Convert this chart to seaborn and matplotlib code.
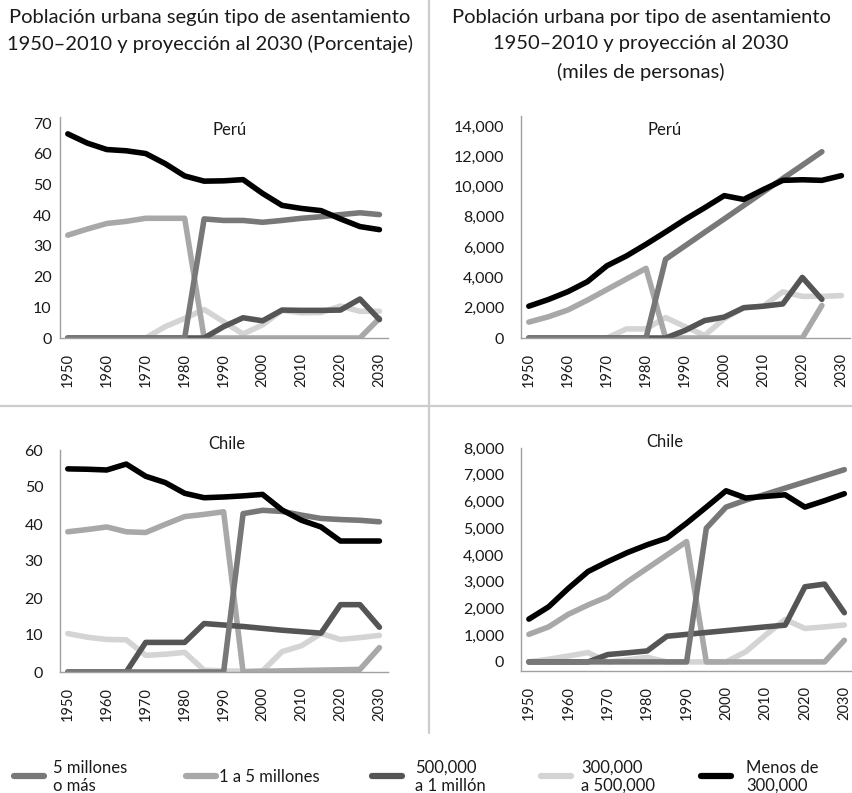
import numpy as np
import pandas as pd
import matplotlib
matplotlib.use("Agg")
import matplotlib.pyplot as plt
from matplotlib.lines import Line2D
from matplotlib.ticker import FuncFormatter
import seaborn as sns

sns.set_theme(style="white")
plt.rcParams["font.family"] = ["Lato", "DejaVu Sans"]
plt.rcParams["text.color"] = "#1a1a1a"

years = [1950, 1955, 1960, 1965, 1970, 1975, 1980, 1985, 1990,
         1995, 2000, 2005, 2010, 2015, 2020, 2025, 2030]

series = ["5 millones\no más", "1 a 5 millones", "500,000\na 1 millón",
          "300,000\na 500,000", "Menos de\n300,000"]
colors = ["#787878", "#a8a8a8", "#555555", "#d4d4d4", "#000000"]
nan = np.nan

# Peru, porcentaje
peru_pct_5m = [0, 0, 0, 0, 0, 0, 0, 38.8, 38.3, 38.3, 37.7, 38.3, 39.0, 39.5, 40.2, 40.8, 40.2]
peru_pct_1a5 = [33.5, 35.5, 37.3, 38.0, 39.0, 39.0, 39.0, 0, 0, 0, 0, 0, 0, 0, 0, 0, 6.4]
peru_pct_500k = [0, 0, 0, 0, 0, 0, 0, 0, 3.7, 6.6, 5.6, 9.1, 9.0, 9.0, 9.1, 12.7, 6.0]
peru_pct_300k = [0, 0, 0, 0, 0, 3.7, 6.4, 9.3, 5.3, 1.3, 4.3, 9.0, 8.2, 8.3, 10.4, 8.7, 8.7]
peru_pct_men = [66.5, 63.5, 61.4, 61.0, 60.1, 56.8, 52.8, 51.1, 51.2, 51.6, 47.1, 43.2, 42.2, 41.5, 38.8, 36.3, 35.3]

# Peru, miles de personas
peru_abs_5m = [0, 0, 0, 0, 0, 0, 0, 5200, 6090, 6980, 7860, 8750, 9640, 10530, 11410, 12300, nan]
peru_abs_1a5 = [1050, 1400, 1850, 2500, 3200, 3900, 4600, 0, 0, 0, 0, 0, 0, 0, 0, 2150, nan]
peru_abs_500k = [0, 0, 0, 0, 0, 0, 0, 0, 500, 1150, 1380, 2000, 2100, 2250, 4000, 2550, nan]
peru_abs_300k = [0, 0, 0, 0, 0, 600, 600, 1350, 750, 170, 1270, 2000, 2100, 3050, 2750, 2750, 2800]
peru_abs_men = [2100, 2540, 3060, 3720, 4770, 5420, 6190, 7000, 7830, 8600, 9400, 9150, 9800, 10410, 10450, 10410, 10720]

# Chile, porcentaje
chile_pct_5m = [0, 0, 0, 0, 0, 0, 0, 0, 0, 42.8, 43.7, 43.4, 42.4, 41.5, 41.2, 41.0, 40.6]
chile_pct_1a5 = [37.9, 38.5, 39.2, 37.9, 37.7, 39.9, 42.0, 42.6, 43.3, 0, 0.2, 0.3, 0.4, 0.5, 0.6, 0.7, 6.6]
chile_pct_500k = [0, 0, 0, 0, 8.0, 8.0, 8.0, 13.1, 12.7, 12.3, 11.8, 11.3, 10.9, 10.5, 18.2, 18.2, 12.1]
chile_pct_300k = [10.4, 9.4, 8.8, 8.7, 4.5, 4.8, 5.3, 0.5, 0.3, 0.2, 0.3, 5.5, 7.1, 10.4, 8.8, 9.3, 9.9]
chile_pct_men = [54.9, 54.8, 54.6, 56.2, 52.9, 51.2, 48.3, 47.1, 47.3, 47.6, 48.0, 43.8, 41.0, 39.2, 35.4, 35.4, 35.4]

# Chile, miles de personas
chile_abs_5m = [0, 0, 0, 0, 0, 0, 0, 0, 0, 5000, 5790, 6050, 6270, 6500, 6730, 6960, 7190]
chile_abs_1a5 = [1030, 1310, 1780, 2130, 2440, 3000, 3500, 4000, 4500, 0, 0, 0, 0, 0, 0, 0, 810]
chile_abs_500k = [0, 0, 0, 0, 275, 340, 410, 960, 1030, 1100, 1170, 1240, 1310, 1375, 2810, 2910, 1840]
chile_abs_300k = [0, 100, 220, 350, 0, 80, 170, 0, 0, 0, 0, 380, 1000, 1590, 1250, 1310, 1380]
chile_abs_men = [1600, 2060, 2750, 3380, 3750, 4090, 4380, 4630, 5190, 5790, 6400, 6130, 6190, 6250, 5790, 6030, 6290]

panels = [
    ("Perú", [peru_pct_5m, peru_pct_1a5, peru_pct_500k, peru_pct_300k, peru_pct_men]),
    ("Perú", [peru_abs_5m, peru_abs_1a5, peru_abs_500k, peru_abs_300k, peru_abs_men]),
    ("Chile", [chile_pct_5m, chile_pct_1a5, chile_pct_500k, chile_pct_300k, chile_pct_men]),
    ("Chile", [chile_abs_5m, chile_abs_1a5, chile_abs_500k, chile_abs_300k, chile_abs_men]),
]

W, H = 853, 793
fig = plt.figure(figsize=(W / 100, H / 100), dpi=100)

# axes boxes in pixels: left, top, right, bottom
boxes = [(60, 117, 388, 338), (521, 116, 850, 338),
         (60, 450, 388, 672), (521, 448, 853, 671)]
ylims = [(0, 72), (0, 14660), (0, 59.5), (-340, 8000)]
yticks = [range(0, 71, 10), range(0, 14001, 2000), range(0, 61, 10), range(0, 8001, 1000)]
ypads = [6, 12, 12, 12]
title_pos = [(0.517, 0.94), (0.438, 0.935), (0.51, 1.027), (0.432, 1.025)]
draw_order = [series[3], series[1], series[2], series[0], series[4]]
palette = dict(zip(series, colors))

for i, (name, values) in enumerate(panels):
    l, t, r, b = boxes[i]
    ax = fig.add_axes([l / W, 1 - b / H, (r - l) / W, (b - t) / H])
    df = pd.DataFrame({"year": years})
    for s, v in zip(series, values):
        df[s] = v
    long = df.melt(id_vars="year", var_name="tipo", value_name="valor").dropna()
    sns.lineplot(data=long, x="year", y="valor", hue="tipo", hue_order=draw_order,
                 palette=palette, linewidth=4.0, legend=False, ax=ax, sort=False)
    for ln in ax.lines:
        ln.set_solid_capstyle("round")
        ln.set_solid_joinstyle("round")
    ax.set_xlim(1948.0, 2032.2)
    ax.set_ylim(*ylims[i])
    ax.set_xticks(range(1950, 2031, 10))
    ax.set_yticks(list(yticks[i]))
    if i % 2 == 1:
        ax.yaxis.set_major_formatter(FuncFormatter(lambda v, p: f"{v:,.0f}"))
    ax.set_xlabel("")
    ax.set_ylabel("")
    ax.tick_params(axis="x", rotation=90, length=0, pad=11, labelsize=10.5, colors="#1a1a1a")
    ax.tick_params(axis="y", length=0, pad=ypads[i], labelsize=11.5, colors="#1a1a1a")
    sns.despine(ax=ax)
    for sp in ("left", "bottom"):
        ax.spines[sp].set_color("#a0a0a0")
        ax.spines[sp].set_linewidth(1.0)
    ax.text(title_pos[i][0], title_pos[i][1], name, transform=ax.transAxes,
            ha="center", va="center", fontsize=12)

# headers
fig.text(210 / W, 1 - 17 / H, "Población urbana según tipo de asentamiento",
         ha="center", va="center", fontsize=14.5)
fig.text(210 / W, 1 - 44 / H, "1950–2010 y proyección al 2030 (Porcentaje)",
         ha="center", va="center", fontsize=14.5)
fig.text(641 / W, 1 - 17 / H, "Población urbana por tipo de asentamiento",
         ha="center", va="center", fontsize=14.5)
fig.text(641 / W, 1 - 44 / H, "1950–2010 y proyección al 2030",
         ha="center", va="center", fontsize=14.5)
fig.text(641 / W, 1 - 72 / H, "(miles de personas)",
         ha="center", va="center", fontsize=14.5)

# divider lines
fig.add_artist(Line2D([429 / W, 429 / W], [1 - 733 / H, 1], color="#cccccc", lw=1.6))
fig.add_artist(Line2D([0, 1], [1 - 406 / H, 1 - 406 / H], color="#cccccc", lw=1.6))

# legend (hand placed like the original)
leg_x = [14, 186, 372, 541, 701]
leg_gap = [39, 33, 43, 40, 45]
for x0, gap, c, s in zip(leg_x, leg_gap, colors, series):
    fig.add_artist(Line2D([x0 / W, (x0 + 30) / W], [1 - 776 / H, 1 - 776 / H],
                          color=c, lw=4.5, solid_capstyle="round"))
    fig.text((x0 + gap) / W, 1 - 777 / H, s, ha="left", va="center",
             fontsize=12, linespacing=1.15)

fig.savefig("out.png", dpi=100)
